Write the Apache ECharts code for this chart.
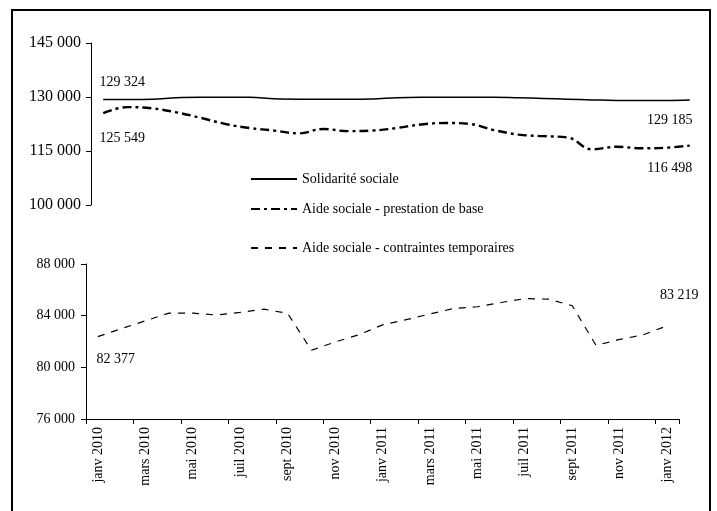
<!DOCTYPE html>
<html>
<head>
<meta charset="utf-8">
<script src="https://cdn.jsdelivr.net/npm/echarts@6/dist/echarts.min.js"></script>
<style>
  html, body { margin: 0; padding: 0; background: #fff; }
  #main { width: 717px; height: 511px; }
</style>
</head>
<body>
<div id="main"></div>
<script>
  // mois (janv 2010 -> janv 2012)
  const months = ['janv 2010', 'févr 2010', 'mars 2010', 'avr 2010', 'mai 2010', 'juin 2010',
    'juil 2010', 'août 2010', 'sept 2010', 'oct 2010', 'nov 2010', 'déc 2010',
    'janv 2011', 'févr 2011', 'mars 2011', 'avr 2011', 'mai 2011', 'juin 2011',
    'juil 2011', 'août 2011', 'sept 2011', 'oct 2011', 'nov 2011', 'déc 2011', 'janv 2012'];

  const solidarite = [129324, 129300, 129350, 129800, 129900, 129900, 129900, 129500, 129400, 129400,
    129400, 129450, 129800, 129900, 129900, 129900, 129900, 129800, 129600, 129400,
    129200, 129050, 129050, 129050, 129185];

  const aideBase = [125549, 127190, 126850, 125730, 124190, 122500, 121380, 120670, 119900, 121100,
    120530, 120670, 121380, 122360, 122780, 122500, 120800, 119550, 119130, 118760,
    115480, 116180, 115760, 115900, 116498];

  const aideContraintes = [82377, 83000, 83600, 84200, 84200, 84050, 84250, 84500, 84180, 81320,
    81960, 82520, 83290, 83690, 84130, 84560, 84690, 85020, 85320, 85280,
    84770, 81700, 82160, 82520, 83219];

  const seriesNames = ['Solidarité sociale', 'Aide sociale - prestation de base', 'Aide sociale - contraintes temporaires'];

  const font = 'Liberation Serif';
  const fmt = (v) => String(v).replace(/\B(?=(\d{3})+(?!\d))/g, ' ');

  // étiquettes sur le premier et le dernier point
  function withEnds(values, first, last) {
    return values.map((v, i) => {
      let lab = i === 0 ? first : (i === values.length - 1 ? last : null);
      if (!lab) return v;
      return {
        value: v,
        symbol: 'circle',
        symbolSize: 1,
        itemStyle: { color: 'rgba(0,0,0,0)' },
        label: Object.assign({
          show: true, color: '#000', fontFamily: font, fontSize: 14,
          formatter: (p) => fmt(p.value)
        }, lab)
      };
    });
  }

  const chart = echarts.init(document.getElementById('main'));

  const axisLine = { show: true, lineStyle: { color: '#000', width: 1 } };

  const option = {
    animation: false,
    backgroundColor: '#fff',
    graphic: [{
      type: 'rect',
      shape: { x: 12, y: 10, width: 698, height: 520 },
      style: { fill: 'none', stroke: '#000', lineWidth: 2 },
      silent: true
    }],
    legend: seriesNames.map((n, i) => ({
      data: [n],
      left: 245,
      top: [167, 197, 236][i],
      itemWidth: 46,
      itemHeight: 14,
      itemStyle: { opacity: 0 },
      textStyle: { fontFamily: font, fontSize: 14, color: '#000' },
      inactiveColor: '#999'
    })),
    grid: [
      { left: 91, right: 15, top: 43, height: 162 },
      { left: 86, right: 38, top: 264, height: 155 }
    ],
    xAxis: [
      { type: 'category', gridIndex: 0, data: months, show: false },
      {
        type: 'category', gridIndex: 1, data: months,
        axisLine: axisLine,
        axisTick: { show: true, interval: 1, length: 5, lineStyle: { color: '#000' } },
        axisLabel: {
          interval: 1, rotate: 90, margin: 8, color: '#000',
          fontFamily: font, fontSize: 14
        }
      }
    ],
    yAxis: [
      {
        type: 'value', gridIndex: 0, min: 100000, max: 145000, interval: 15000,
        axisLine: axisLine,
        axisTick: { show: true, length: 5, lineStyle: { color: '#000' } },
        splitLine: { show: false },
        axisLabel: { color: '#000', fontFamily: font, fontSize: 16, margin: 10, formatter: fmt }
      },
      {
        type: 'value', gridIndex: 1, min: 76000, max: 88000, interval: 4000,
        axisLine: axisLine,
        axisTick: { show: true, length: 5, lineStyle: { color: '#000' } },
        splitLine: { show: false },
        axisLabel: { color: '#000', fontFamily: font, fontSize: 14, margin: 11, formatter: fmt }
      }
    ],
    series: [
      {
        name: seriesNames[0], type: 'line', xAxisIndex: 0, yAxisIndex: 0,
        symbol: 'none', smooth: 0.4, color: '#000',
        lineStyle: { color: '#000', width: 1.5, type: 'solid' },
        data: withEnds(solidarite,
          { position: 'top', offset: [19, -5] },
          { position: 'bottom', offset: [-20, 8] })
      },
      {
        name: seriesNames[1], type: 'line', xAxisIndex: 0, yAxisIndex: 0,
        symbol: 'none', smooth: 0.4, color: '#000',
        lineStyle: { color: '#000', width: 2.4, type: [9, 4, 3, 4] },
        data: withEnds(aideBase,
          { position: 'bottom', offset: [19, 13] },
          { position: 'bottom', offset: [-20, 10] })
      },
      {
        name: seriesNames[2], type: 'line', xAxisIndex: 1, yAxisIndex: 1,
        symbol: 'none', smooth: false, color: '#000',
        lineStyle: { color: '#000', width: 1.2, type: [7, 7] },
        data: withEnds(aideContraintes,
          { position: 'bottom', offset: [18, 10] },
          { position: 'top', offset: [12, -18] })
      }
    ]
  };

  option && chart.setOption(option);

  window.addEventListener('resize', () => {
    chart.resize();
  });
</script>
</body>
</html>
